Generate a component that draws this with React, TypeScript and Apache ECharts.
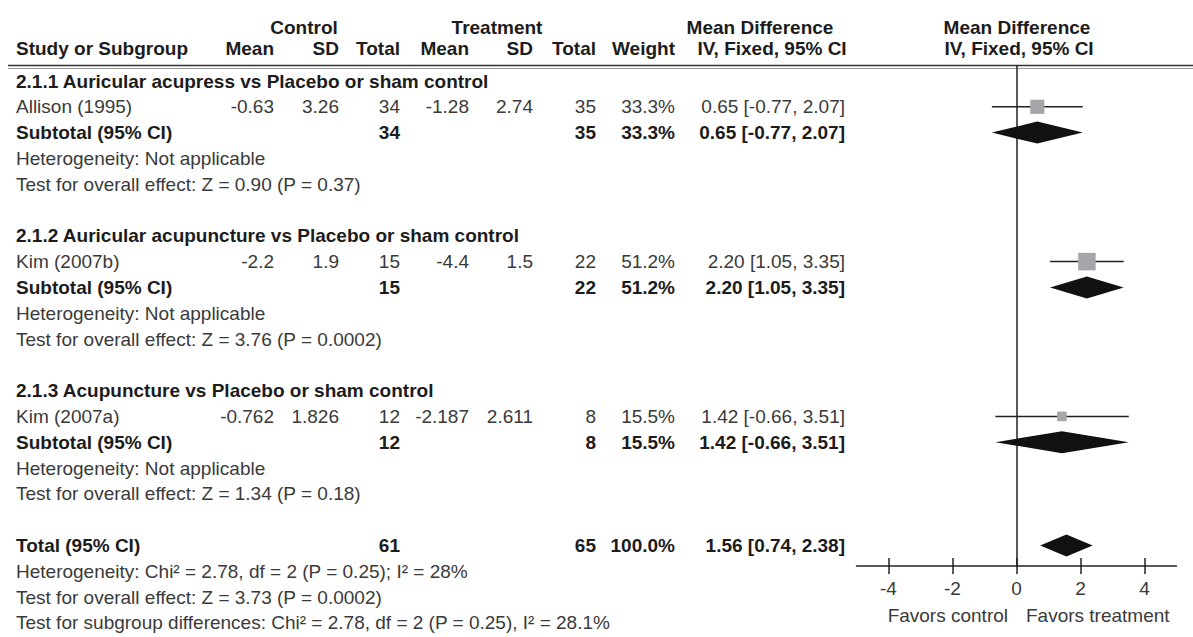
import React, { useEffect, useRef } from 'react';
import * as echarts from 'echarts';

// ---------- data ----------
const groupTitles = [
  '2.1.1 Auricular acupress vs Placebo or sham control',
  '2.1.2 Auricular acupuncture vs Placebo or sham control',
  '2.1.3 Acupuncture vs Placebo or sham control',
];
const studyNames = ['Allison (1995)', 'Kim (2007b)', 'Kim (2007a)'];
const controlMean = [-0.63, -2.2, -0.762];
const controlSD = [3.26, 1.9, 1.826];
const controlTotal = [34, 15, 12];
const treatMean = [-1.28, -4.4, -2.187];
const treatSD = [2.74, 1.5, 2.611];
const treatTotal = [35, 22, 8];
const weights = [33.3, 51.2, 15.5];
const meanDiff = [0.65, 2.2, 1.42];
const ciLower = [-0.77, 1.05, -0.66];
const ciUpper = [2.07, 3.35, 3.51];
const heterogeneityNotes = [
  'Heterogeneity: Not applicable',
  'Heterogeneity: Not applicable',
  'Heterogeneity: Not applicable',
];
const effectNotes = [
  'Test for overall effect: Z = 0.90 (P = 0.37)',
  'Test for overall effect: Z = 3.76 (P = 0.0002)',
  'Test for overall effect: Z = 1.34 (P = 0.18)',
];
const totalLabel = 'Total (95% CI)';
const totalControl = 61;
const totalTreat = 65;
const totalWeight = 100.0;
const totalMD = 1.56;
const totalLower = 0.74;
const totalUpper = 2.38;
const totalNotes = [
  'Heterogeneity: Chi² = 2.78, df = 2 (P = 0.25); I² = 28%',
  'Test for overall effect: Z = 3.73 (P = 0.0002)',
  'Test for subgroup differences: Chi² = 2.78, df = 2 (P = 0.25), I² = 28.1%',
];
const axisTickValues = [-4, -2, 0, 2, 4];
const favorLabels = ['Favors control', 'Favors treatment'];

// ---------- layout ----------
const W = 1193;
const H = 637;
const ROW0 = 81;
const LH = 25.8;
const HEAD1 = 27;
const HEAD2 = 48;
const RULE = 65.5;
const PLOT_TOP = 66;
const PLOT_BOTTOM = 566;
const PLOT_LEFT = 856.5;
const PLOT_WIDTH = 320;
const FONT = '"Liberation Sans", Arial, Helvetica, sans-serif';
const FS = 19;
const REG = '#3a3a3a';
const BOLD = '#1c1c1c';
const COL = { cMean: 274, cSD: 339, cN: 400, tMean: 469, tSD: 533, tN: 596, weight: 675, ci: 845 };

const rowY = (r: number) => ROW0 + LH * r;
const fmtCI = (m: number, l: number, h: number) => `${m.toFixed(2)} [${l.toFixed(2)}, ${h.toFixed(2)}]`;

function txt(text: string, x: number, y: number, align: string, bold = false, color?: string) {
  return {
    type: 'text',
    x,
    y,
    silent: true,
    style: {
      text,
      font: `${bold ? 'bold ' : ''}${FS}px ${FONT}`,
      fill: color || (bold ? BOLD : REG),
      textAlign: align,
      align,
      textVerticalAlign: 'middle',
      verticalAlign: 'middle',
    },
  };
}

export default function App() {
  const ref = useRef<HTMLDivElement>(null);

  useEffect(() => {
    document.body.style.margin = '0';
    if (!ref.current) return;
    const chart = echarts.init(ref.current, undefined, { renderer: 'svg' });

    const graphics: any[] = [];
    // headers
    graphics.push(txt('Control', 304, HEAD1, 'center', true));
    graphics.push(txt('Treatment', 497, HEAD1, 'center', true));
    graphics.push(txt('Mean Difference', 760, HEAD1, 'center', true));
    graphics.push(txt('Mean Difference', 1017, HEAD1, 'center', true));
    graphics.push(txt('Study or Subgroup', 16, HEAD2, 'left', true));
    graphics.push(txt('Mean', COL.cMean, HEAD2, 'right', true));
    graphics.push(txt('SD', COL.cSD, HEAD2, 'right', true));
    graphics.push(txt('Total', COL.cN, HEAD2, 'right', true));
    graphics.push(txt('Mean', COL.tMean, HEAD2, 'right', true));
    graphics.push(txt('SD', COL.tSD, HEAD2, 'right', true));
    graphics.push(txt('Total', COL.tN, HEAD2, 'right', true));
    graphics.push(txt('Weight', COL.weight, HEAD2, 'right', true));
    graphics.push(txt('IV, Fixed, 95% CI', 772, HEAD2, 'center', true));
    graphics.push(txt('IV, Fixed, 95% CI', 1019, HEAD2, 'center', true));
    // double rule
    graphics.push({ type: 'line', silent: true, shape: { x1: 8, y1: RULE, x2: W, y2: RULE }, style: { stroke: '#333', lineWidth: 1.6 } });
    graphics.push({ type: 'line', silent: true, shape: { x1: 8, y1: RULE + 3, x2: W, y2: RULE + 3 }, style: { stroke: '#999', lineWidth: 1 } });

    groupTitles.forEach((title, g) => {
      const b = g * 6;
      graphics.push(txt(title, 16, rowY(b), 'left', true));
      const ys = rowY(b + 1);
      graphics.push(txt(studyNames[g], 16, ys, 'left'));
      graphics.push(txt(String(controlMean[g]), COL.cMean, ys, 'right'));
      graphics.push(txt(String(controlSD[g]), COL.cSD, ys, 'right'));
      graphics.push(txt(String(controlTotal[g]), COL.cN, ys, 'right'));
      graphics.push(txt(String(treatMean[g]), COL.tMean, ys, 'right'));
      graphics.push(txt(String(treatSD[g]), COL.tSD, ys, 'right'));
      graphics.push(txt(String(treatTotal[g]), COL.tN, ys, 'right'));
      graphics.push(txt(weights[g].toFixed(1) + '%', COL.weight, ys, 'right'));
      graphics.push(txt(fmtCI(meanDiff[g], ciLower[g], ciUpper[g]), COL.ci, ys, 'right'));
      const yt = rowY(b + 2);
      graphics.push(txt('Subtotal (95% CI)', 16, yt, 'left', true));
      graphics.push(txt(String(controlTotal[g]), COL.cN, yt, 'right', true));
      graphics.push(txt(String(treatTotal[g]), COL.tN, yt, 'right', true));
      graphics.push(txt(weights[g].toFixed(1) + '%', COL.weight, yt, 'right', true));
      graphics.push(txt(fmtCI(meanDiff[g], ciLower[g], ciUpper[g]), COL.ci, yt, 'right', true));
      graphics.push(txt(heterogeneityNotes[g], 16, rowY(b + 3), 'left'));
      graphics.push(txt(effectNotes[g], 16, rowY(b + 4), 'left'));
    });
    const tr = groupTitles.length * 6;
    const yT = rowY(tr);
    graphics.push(txt(totalLabel, 16, yT, 'left', true));
    graphics.push(txt(String(totalControl), COL.cN, yT, 'right', true));
    graphics.push(txt(String(totalTreat), COL.tN, yT, 'right', true));
    graphics.push(txt(totalWeight.toFixed(1) + '%', COL.weight, yT, 'right', true));
    graphics.push(txt(fmtCI(totalMD, totalLower, totalUpper), COL.ci, yT, 'right', true));
    totalNotes.forEach((n, i) => graphics.push(txt(n, 16, rowY(tr + 1 + i), 'left')));
    // favours labels
    graphics.push(txt(favorLabels[0], 1008, 615, 'right'));
    graphics.push(txt(favorLabels[1], 1026, 615, 'left'));

    const studyData = studyNames.map((_, g) => [g * 6 + 1, meanDiff[g], ciLower[g], ciUpper[g], weights[g]]);
    const diamondData = [
      ...studyNames.map((_, g) => [g * 6 + 2, meanDiff[g], ciLower[g], ciUpper[g]]),
      [tr, totalMD, totalLower, totalUpper],
    ];

    const option: any = {
      animation: false,
      backgroundColor: '#ffffff',
      grid: { left: PLOT_LEFT, width: PLOT_WIDTH, top: PLOT_TOP, height: PLOT_BOTTOM - PLOT_TOP, containLabel: false },
      xAxis: [
        {
          type: 'value',
          min: -5,
          max: 5,
          position: 'bottom',
          axisLine: { show: true, onZero: false, lineStyle: { color: '#222', width: 1.5 } },
          axisTick: { show: true, inside: false, length: 8, customValues: axisTickValues, lineStyle: { color: '#222', width: 1.5 } },
          axisLabel: { show: true, customValues: axisTickValues, margin: 13, fontSize: FS, fontFamily: FONT, color: REG },
          splitLine: { show: false },
        },
        {
          type: 'value',
          min: -5,
          max: 5,
          position: 'bottom',
          axisLine: { show: false, onZero: false },
          axisTick: { show: true, inside: true, length: 8, customValues: axisTickValues, lineStyle: { color: '#222', width: 1.5 } },
          axisLabel: { show: false },
          splitLine: { show: false },
        },
      ],
      yAxis: {
        type: 'value',
        inverse: true,
        min: (PLOT_TOP - ROW0) / LH,
        max: (PLOT_BOTTOM - ROW0) / LH,
        axisLine: { show: true, onZero: true, lineStyle: { color: '#222', width: 1.5 } },
        axisTick: { show: false },
        axisLabel: { show: false },
        splitLine: { show: false },
      },
      series: [
        {
          type: 'custom',
          xAxisIndex: 0,
          yAxisIndex: 0,
          encode: { y: 0, x: [1, 2, 3] },
          data: studyData,
          renderItem: (_p: any, api: any) => {
            const r = api.value(0);
            const c = api.coord([api.value(1), r]);
            const lo = api.coord([api.value(2), r]);
            const hi = api.coord([api.value(3), r]);
            const s = 2.45 * Math.sqrt(api.value(4));
            return {
              type: 'group',
              children: [
                { type: 'line', shape: { x1: lo[0], y1: lo[1], x2: hi[0], y2: hi[1] }, style: { stroke: '#222', lineWidth: 1.5 } },
                { type: 'rect', shape: { x: c[0] - s / 2, y: c[1] - s / 2, width: s, height: s }, style: { fill: '#a6a6aa' } },
              ],
            };
          },
        },
        {
          type: 'custom',
          xAxisIndex: 0,
          yAxisIndex: 0,
          encode: { y: 0, x: [1, 2, 3] },
          data: diamondData,
          renderItem: (_p: any, api: any) => {
            const r = api.value(0);
            const c = api.coord([api.value(1), r]);
            const lo = api.coord([api.value(2), r]);
            const hi = api.coord([api.value(3), r]);
            const h = 11;
            return {
              type: 'polygon',
              shape: { points: [[lo[0], lo[1]], [c[0], c[1] - h], [hi[0], hi[1]], [c[0], c[1] + h]] },
              style: { fill: '#111' },
            };
          },
        },
      ],
      graphic: graphics,
    };

    chart.setOption(option);
    return () => chart.dispose();
  }, []);

  return <div ref={ref} style={{ width: W, height: H }} />;
}
